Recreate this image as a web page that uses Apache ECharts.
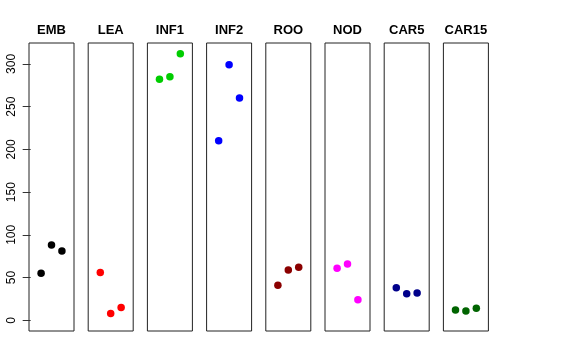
<!DOCTYPE html>
<html><head><meta charset="utf-8">
<script src="https://cdn.jsdelivr.net/npm/echarts@6/dist/echarts.min.js"></script>
<style>html,body{margin:0;padding:0;background:#fff}#c{width:576px;height:360px}</style>
</head><body><div id="c"></div>
<script>
const panels = ["EMB","LEA","INF1","INF2","ROO","NOD","CAR5","CAR15"];
const colors = ["#000000","#FF0000","#00CD00","#0000FF","#8B0000","#FF00FF","#00008B","#006400"];
const values = [
  [55, 88, 81],
  [56, 8, 15],
  [282, 285, 312],
  [210, 299, 260],
  [41, 59, 62],
  [61, 66, 24],
  [38, 31, 32],
  [12, 11, 14]
];
const yTicks = [0, 50, 100, 150, 200, 250, 300];

(function () {
const FONT = "Liberation Sans, Arial, Helvetica, sans-serif";
const left0 = 29, step = 59.2, w = 45, gTop = 43, h = 288;
const ymin = -12.48, ymax = 324.48;

const grid = [], xAxis = [], yAxis = [], series = [], graphic = [];
panels.forEach((name, i) => {
  const L = left0 + i * step;
  grid.push({left: L, top: gTop, width: w, height: h, show: true,
    borderColor: "#222", borderWidth: 1, backgroundColor: "transparent"});
  xAxis.push({type: "value", gridIndex: i, min: -0.16, max: 4.16, show: false});
  yAxis.push({type: "value", gridIndex: i, min: ymin, max: ymax,
    show: i === 0,
    axisLine: {show: false},
    splitLine: {show: false},
    axisTick: {show: i === 0, length: 8, inside: false, customValues: yTicks,
      lineStyle: {color: "#333", width: 1}},
    axisLabel: {show: i === 0, customValues: yTicks, rotate: 90, margin: 11,
      fontFamily: FONT, fontSize: 12, color: "#000"}
  });
  series.push({type: "scatter", xAxisIndex: i, yAxisIndex: i,
    symbol: "circle", symbolSize: 7.5,
    itemStyle: {color: colors[i], opacity: 1},
    silent: true, animation: false,
    data: values[i].map((v, j) => [j + 1, v])
  });
  graphic.push({type: "text", x: L + w / 2, y: 30,
    style: {text: name, fontFamily: FONT, fontWeight: "bold", fontSize: 13,
      fill: "#000", align: "center", verticalAlign: "middle"}});
});

const chart = echarts.init(document.getElementById("c"), null, {renderer: "canvas"});
chart.setOption({animation: false, grid, xAxis, yAxis, series, graphic});
})();
</script></body></html>
